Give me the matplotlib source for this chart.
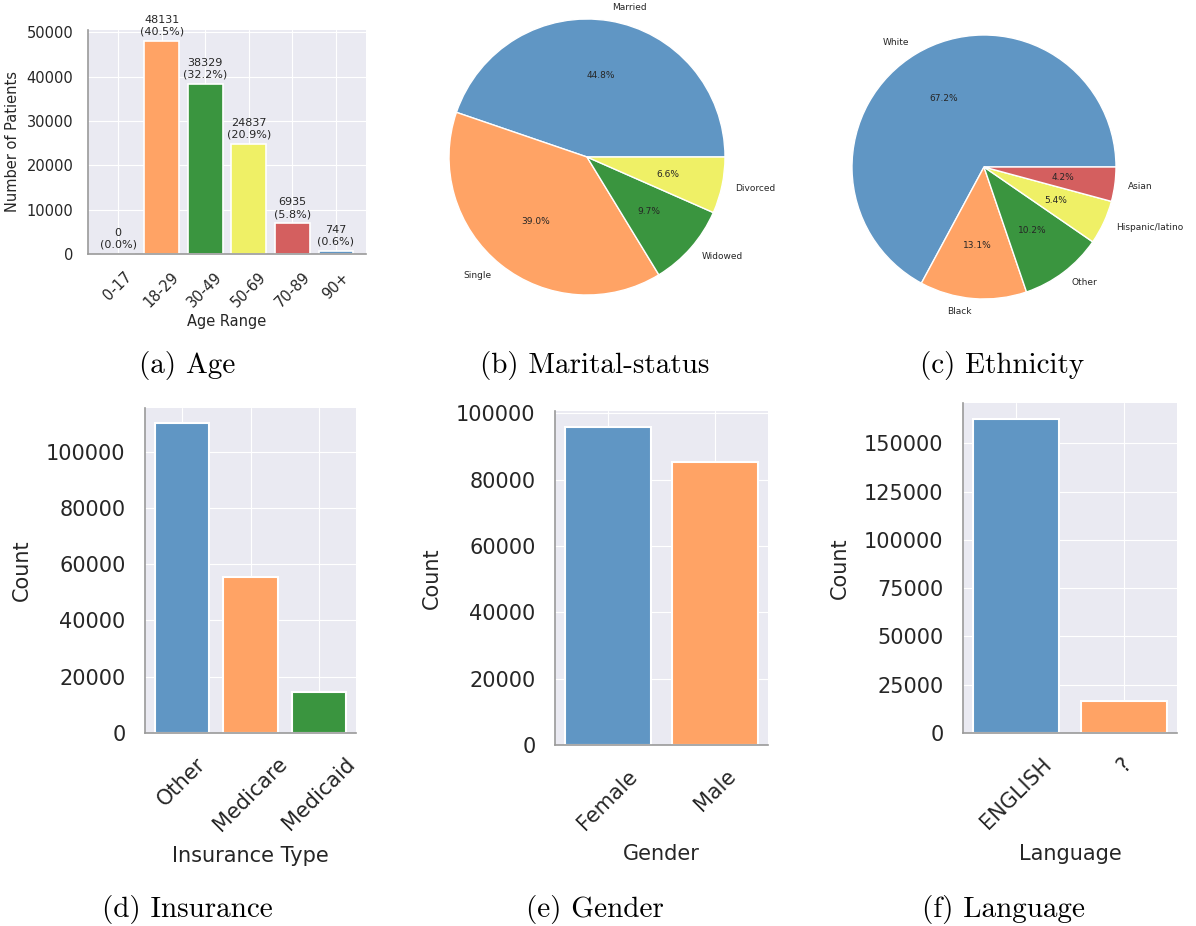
import matplotlib
matplotlib.use("Agg")
import matplotlib.pyplot as plt
import seaborn as sns
from matplotlib.ticker import MultipleLocator

sns.set_style("darkgrid")
plt.rcParams['font.family'] = ['DejaVu Sans']
plt.rcParams['text.color'] = '.15'
plt.rcParams['axes.labelcolor'] = '.15'
plt.rcParams['xtick.color'] = '.15'
plt.rcParams['ytick.color'] = '.15'

palette = ['#6096c4', '#ffa365', '#3a953f', '#eff066', '#d45f5f']

age_ranges = ['0-17', '18-29', '30-49', '50-69', '70-89', '90+']
age_counts = [0, 48131, 38329, 24837, 6935, 747]

marital_labels = ['Married', 'Single', 'Widowed', 'Divorced']
marital_share = [44.8, 39.0, 9.7, 6.6]

ethnicity_labels = ['White', 'Black', 'Other', 'Hispanic/latino', 'Asian']
ethnicity_share = [67.2, 13.1, 10.2, 5.4, 4.2]

insurance_types = ['Other', 'Medicare', 'Medicaid']
insurance_counts = [110000, 55400, 14700]

genders = ['Female', 'Male']
gender_counts = [95900, 85200]

languages = ['ENGLISH', '?']
language_counts = [162800, 16600]

W, H = 1196, 926
fig = plt.figure(figsize=(W / 100, H / 100), dpi=100)
base_pad = plt.rcParams['ytick.major.pad']


def box(l, t, r, b):
    return [l / W, 1 - b / H, (r - l) / W, (b - t) / H]


def style_spines(ax):
    for s in ['top', 'right']:
        ax.spines[s].set_visible(False)
    for s in ['left', 'bottom']:
        ax.spines[s].set_visible(True)
        ax.spines[s].set_color('#9a9a9a')
        ax.spines[s].set_linewidth(1.2)


def caption(x, y, s):
    fig.text(x / W, 1 - y / H, s, family='cmr10', fontsize=21,
             ha='center', va='center', color='black')


# (a) age histogram with counts and shares
ax = fig.add_axes(box(88, 30, 366, 254))
cols = [palette[i % 5] for i in range(len(age_ranges))]
bars = ax.bar(age_ranges, age_counts, color=cols, edgecolor='white', linewidth=1.2)
total_age = sum(age_counts)
for b, c in zip(bars, age_counts):
    ax.annotate(f'{c}\n({100 * c / total_age:.1f}%)',
                (b.get_x() + b.get_width() / 2, c), xytext=(0, 3),
                textcoords='offset points', ha='center', va='bottom', fontsize=8)
ax.set_ylabel('Number of Patients', fontsize=10.5, labelpad=5)
ax.set_xlabel('Age Range', fontsize=10.5, labelpad=3)
ax.tick_params(axis='y', labelsize=10.5, pad=base_pad + 3.5)
ax.tick_params(axis='x', labelsize=10.5, rotation=45, pad=base_pad + 4)
style_spines(ax)

# (b) marital status
r = 138
ax = fig.add_axes(box(587 - r, 157 - r, 587 + r, 157 + r))
tot_m = sum(marital_share)
ax.pie(marital_share, labels=marital_labels, colors=palette[:4], startangle=0,
       autopct=lambda p: f'{p * tot_m / 100:.1f}%',
       wedgeprops=dict(edgecolor='white', linewidth=1),
       textprops=dict(fontsize=6.5, color='.15'))
ax.set_xlim(-1, 1)
ax.set_ylim(-1, 1)

# (c) ethnicity
r = 132
ax = fig.add_axes(box(984 - r, 167 - r, 984 + r, 167 + r))
tot_e = sum(ethnicity_share)
ax.pie(ethnicity_share, labels=ethnicity_labels, colors=palette, startangle=0,
       autopct=lambda p: f'{p * tot_e / 100:.1f}%',
       wedgeprops=dict(edgecolor='white', linewidth=1),
       textprops=dict(fontsize=6.5, color='.15'))
ax.set_xlim(-1, 1)
ax.set_ylim(-1, 1)


def count_panel(rect, cats, vals, xlabel, step):
    ax = fig.add_axes(box(*rect))
    ax.bar(cats, vals, color=palette[:len(cats)], edgecolor='white', linewidth=1.5)
    ax.set_ylabel('Count', fontsize=15, labelpad=10)
    ax.set_xlabel(xlabel, fontsize=15, labelpad=8)
    ax.yaxis.set_major_locator(MultipleLocator(step))
    ax.tick_params(axis='y', labelsize=15, pad=base_pad + 7)
    ax.tick_params(axis='x', labelsize=15, rotation=45, pad=base_pad + 8)
    style_spines(ax)
    return ax


count_panel((145, 408, 356, 733), insurance_types, insurance_counts, 'Insurance Type', 20000)
count_panel((555, 411, 768, 745), genders, gender_counts, 'Gender', 20000)
count_panel((963, 403, 1177, 733), languages, language_counts, 'Language', 25000)

caption(187, 366, '(a) Age')
caption(595, 366, '(b) Marital-status')
caption(1002, 366, '(c) Ethnicity')
caption(187, 909, '(d) Insurance')
caption(595, 909, '(e) Gender')
caption(1003, 909, '(f) Language')

fig.savefig('out.png', dpi=100, facecolor='white')
